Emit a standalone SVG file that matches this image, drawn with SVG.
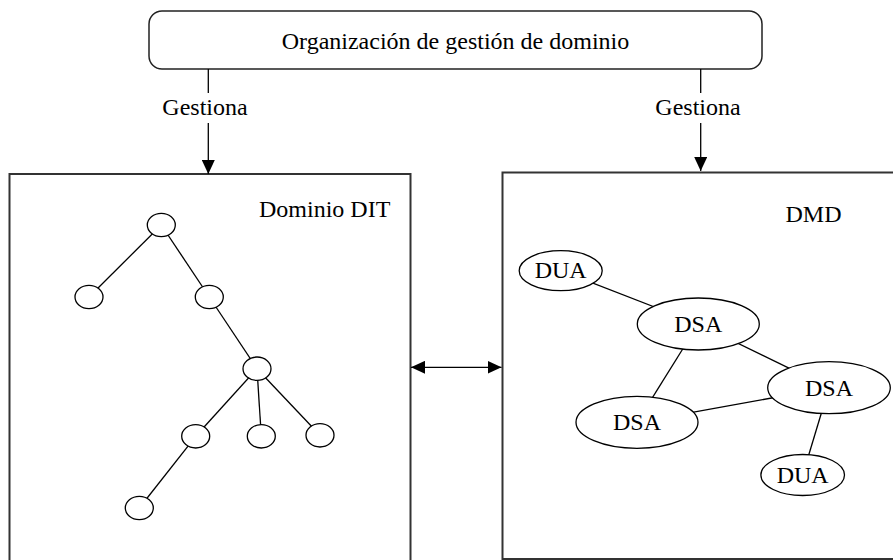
<svg xmlns="http://www.w3.org/2000/svg" width="893" height="560" viewBox="0 0 893 560" font-family="'Liberation Serif', Tinos, 'Times New Roman', 'DejaVu Serif', serif">
  <style>
    text { font-family: "Liberation Serif", Tinos, "Times New Roman", "DejaVu Serif", serif; font-size: 24px; fill: #000; }
    .mid { text-anchor: middle; }
    .frame { fill: none; stroke: #333; stroke-width: 2; }
    .edge { stroke: #000; stroke-width: 1.3; fill: none; }
    .node { fill: #fff; stroke: #000; stroke-width: 1.3; }
  </style>
  <defs>
    <marker id="arrow" markerUnits="userSpaceOnUse" viewBox="0 0 14 13" refX="14" refY="6.5" markerWidth="14" markerHeight="13" orient="auto-start-reverse">
      <path d="M0,0 L14,6.5 L0,13 Z" fill="#000"/>
    </marker>
  </defs>

  <!-- management organisation -->
  <g id="org">
    <rect x="149" y="11" width="613" height="58" rx="13" ry="13" fill="#fff" stroke="#222" stroke-width="1.5"/>
    <text class="mid" x="455.5" y="49">Organización de gestión de dominio</text>
  </g>

  <!-- domain DIT -->
  <g id="dit">
    <rect class="frame" x="9.5" y="174" width="401" height="400"/>
    <text x="259" y="217">Dominio DIT</text>
    <g id="dit-edges">
      <line class="edge" x1="161.3" y1="225" x2="89" y2="297"/>
      <line class="edge" x1="161.3" y1="225" x2="209.3" y2="297"/>
      <line class="edge" x1="209.3" y1="297" x2="257" y2="368.7"/>
      <line class="edge" x1="257" y1="368.7" x2="195.7" y2="436.3"/>
      <line class="edge" x1="257" y1="368.7" x2="261.3" y2="436.3"/>
      <line class="edge" x1="257" y1="368.7" x2="320" y2="435.3"/>
      <line class="edge" x1="195.7" y1="436.3" x2="139.3" y2="508"/>
    </g>
    <ellipse class="node" cx="161.3" cy="225" rx="14" ry="11.7"/>
    <ellipse class="node" cx="89" cy="297" rx="14" ry="11.7"/>
    <ellipse class="node" cx="209.3" cy="297" rx="14" ry="11.7"/>
    <ellipse class="node" cx="257" cy="368.7" rx="14" ry="11.7"/>
    <ellipse class="node" cx="195.7" cy="436.3" rx="14" ry="11.7"/>
    <ellipse class="node" cx="261.3" cy="436.3" rx="14" ry="11.7"/>
    <ellipse class="node" cx="320" cy="435.3" rx="14" ry="11.7"/>
    <ellipse class="node" cx="139.3" cy="508" rx="14" ry="11.7"/>
  </g>

  <!-- DMD -->
  <g id="dmd">
    <rect class="frame" x="502.5" y="172.5" width="400" height="386.5"/>
    <text x="785.5" y="222">DMD</text>
    <g id="dmd-edges">
      <line class="edge" x1="560.7" y1="270.7" x2="698.3" y2="324"/>
      <line class="edge" x1="698.3" y1="324" x2="829" y2="387.7" stroke-width="1.8"/>
      <line class="edge" x1="698.3" y1="324" x2="637" y2="422.3"/>
      <line class="edge" x1="637" y1="422.3" x2="829" y2="387.7"/>
      <line class="edge" x1="829" y1="387.7" x2="802.7" y2="475"/>
    </g>
    <g id="dua1">
      <ellipse class="node" cx="560.7" cy="270.7" rx="41.5" ry="20"/>
      <text class="mid" x="560.7" y="278">DUA</text>
    </g>
    <g id="dsa1">
      <ellipse class="node" cx="698.3" cy="324" rx="61" ry="26"/>
      <text class="mid" x="698.3" y="332">DSA</text>
    </g>
    <g id="dsa2">
      <ellipse class="node" cx="829" cy="387.7" rx="61.3" ry="26"/>
      <text class="mid" x="829" y="395.5">DSA</text>
    </g>
    <g id="dsa3">
      <ellipse class="node" cx="637" cy="422.3" rx="61" ry="26"/>
      <text class="mid" x="637" y="430">DSA</text>
    </g>
    <g id="dua2">
      <ellipse class="node" cx="802.7" cy="475" rx="41.8" ry="20.5"/>
      <text class="mid" x="802.7" y="483">DUA</text>
    </g>
  </g>

  <!-- connectors -->
  <g id="connectors">
    <line class="edge" x1="208.3" y1="69" x2="208.3" y2="93"/>
    <line class="edge" x1="208.3" y1="123" x2="208.3" y2="174" marker-end="url(#arrow)"/>
    <text class="mid" x="205" y="115">Gestiona</text>
    <line class="edge" x1="700.7" y1="69" x2="700.7" y2="93"/>
    <line class="edge" x1="700.7" y1="123" x2="700.7" y2="171" marker-end="url(#arrow)"/>
    <text class="mid" x="698" y="115">Gestiona</text>
    <line class="edge" x1="411" y1="367.3" x2="501.5" y2="367.3" marker-start="url(#arrow)" marker-end="url(#arrow)"/>
  </g>
</svg>
